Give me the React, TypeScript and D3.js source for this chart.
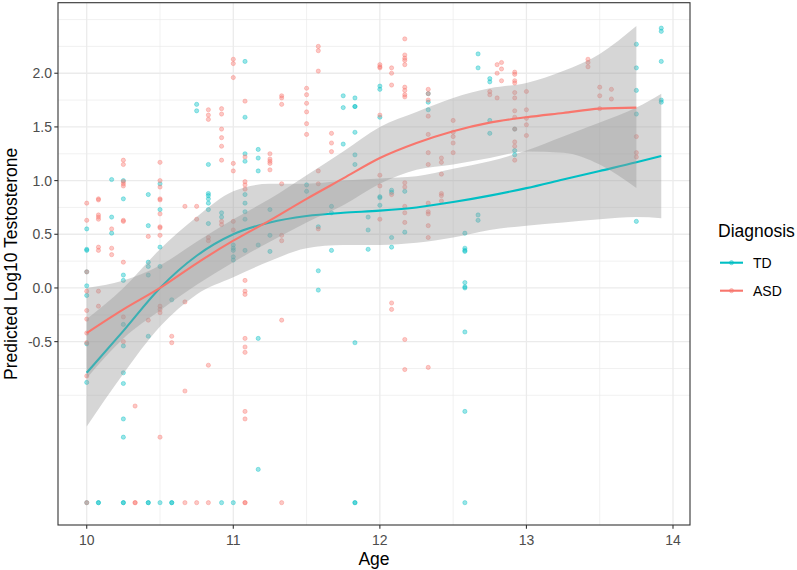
import React from "react";
import * as d3 from "d3";

// ---------- data ----------
const groupNames = ["TD", "ASD"];
const groupColors = ["#00BFC4", "#F8766D"];

const xTicks = [10, 11, 12, 13, 14];
const xMinorTicks = [10.5, 11.5, 12.5, 13.5];
const yTicks = [-0.5, 0, 0.5, 1, 1.5, 2];
const yTickLabels = ["-0.5", "0.0", "0.5", "1.0", "1.5", "2.0"];
const yMinorTicks = [-1, -0.75, -0.25, 0.25, 0.75, 1.25, 1.75, 2.25, 2.5];

// points: [age, values at that age]
const tdPoints: [number, number[]][] = [
  [10.0, [0.55, 0.36, 0.35, 0.15, 0.02, -0.07, -0.52, -0.88, -2.0]],
  [10.08, [-2.0, -2.0]],
  [10.17, [1.01, 0.66, 0.51]],
  [10.25, [1.0, 0.83, 0.12, 0.07, -0.34, -0.54, -0.79, -0.89, -1.22, -1.39, -2.0, -2.0]],
  [10.42, [0.87, 0.58, 0.24, 0.2, 0.12, -0.45, -2.0, -2.0]],
  [10.5, [0.97, 0.73, 0.38, 0.2, -2.0]],
  [10.58, [-0.11, -2.0, -2.0]],
  [10.75, [1.71, 1.65]],
  [10.83, [1.15, 0.88, 0.86, 0.83, 0.79, 0.73, 0.6]],
  [10.92, [0.7, 0.66, -2.0]],
  [11.0, [0.4, 0.37, 0.35, 0.29, 0.26, -2.0]],
  [11.08, [2.11, 1.59, 1.25, 1.18, 0.87, 0.79, 0.71, 0.64, 0.35]],
  [11.17, [1.29, 1.21, 1.09, 0.4, -0.47, -1.69]],
  [11.25, [0.73, 0.49, 0.34]],
  [11.5, [0.96, 0.9]],
  [11.58, [0.57, 0.16, -0.02]],
  [11.67, [0.76, 0.7, 0.35]],
  [11.75, [1.79, 1.68, 1.34]],
  [11.83, [1.77, 1.69, 1.69, 1.45, 1.24, 1.15, -0.51, -2.0, -2.0]],
  [11.92, [0.66, 0.54, 0.36]],
  [12.0, [1.88, 1.85, 1.59, 0.85, 0.84, 0.77]],
  [12.08, [0.91, 0.89, 0.47, 0.38]],
  [12.17, [0.9, 0.52]],
  [12.33, [1.81, 1.73, 1.66]],
  [12.58, [0.51, 0.37, 0.35, 0.34, 0.05, 0.01, 0.0, -0.41, -1.15, -2.0]],
  [12.67, [2.18, 2.05, 0.68, 0.63]],
  [12.75, [1.95, 1.92, 1.56, 1.44]],
  [12.92, [1.48, 1.28, 1.24]],
  [13.75, [2.27, 2.05, 1.84, 1.62, 0.62]],
  [13.92, [2.42, 2.39, 2.11, 1.75, 1.73]],
];

const asdPoints: [number, number[]][] = [
  [10.0, [0.79, 0.63, 0.15, -0.03, -0.21, -0.29, -0.42, -0.51, -0.82, -2.0]],
  [10.08, [0.83, 0.82, 0.68, 0.66, 0.64, 0.38, 0.35, -0.03, -0.17]],
  [10.17, [0.55, 0.37, 0.31]],
  [10.25, [1.19, 1.15, 0.99, 0.97, 0.95, 0.63, 0.62, 0.24, -0.27, -0.5]],
  [10.33, [-1.1, -2.0, -2.0]],
  [10.42, [0.48, -0.3]],
  [10.5, [1.17, 1.0, 0.94, 0.83, 0.82, 0.69, 0.57, 0.56, 0.49, -0.17, -0.2, -0.23, -1.39]],
  [10.58, [-0.45, -0.51]],
  [10.67, [0.76, -0.13, -0.96, -2.0]],
  [10.75, [0.76, 0.64, -2.0]],
  [10.83, [1.66, 1.61, 1.57, 0.47, 0.44, -0.72, -2.0]],
  [10.92, [1.67, 1.62, 1.48, 1.4, 1.32, 1.19, 0.62, 0.59]],
  [11.0, [2.13, 2.09, 1.96, 1.16, 1.09, 0.62, 0.54]],
  [11.08, [1.74, 1.22, 0.99, 0.96, 0.92, 0.07, -0.03, -0.06, -0.47, -0.55, -0.6, -1.15, -1.22, -2.0, -2.0]],
  [11.25, [1.25, 1.2, 1.18, 1.16, 1.1]],
  [11.33, [1.79, 1.77, 1.71, 0.97, 0.49, 0.44, -0.3, -2.0]],
  [11.5, [1.86, 1.8, 1.72, 1.64, 1.53, 1.43]],
  [11.58, [2.25, 2.21, 2.02, 1.09, 0.97, 0.55]],
  [11.67, [1.44, 1.35, 1.27]],
  [12.0, [2.08, 2.06, 2.05, 1.61, 1.05, 0.95, 0.64]],
  [12.08, [2.05, 2.0, 1.89, 0.87, -0.14, -0.2]],
  [12.17, [2.32, 2.17, 2.14, 2.12, 2.08, 1.87, 1.84, 1.8, 1.78, 0.98, 0.94, 0.76, 0.7, 0.61, -0.48, -0.76]],
  [12.33, [1.85, 1.81, 1.75, 1.6, 1.43, 1.26, 1.15, 0.79, 0.71, 0.69, 0.58, 0.47, -0.74]],
  [12.42, [1.21, 1.17, 1.06, 0.88, 0.86, 0.81]],
  [12.5, [1.56, 1.45, 1.41, 1.35, 1.26]],
  [12.75, [1.83, 1.8]],
  [12.8, [2.08, 2.0, 1.77]],
  [12.83, [2.1, 2.04, 1.93]],
  [12.92, [2.01, 1.99, 1.93, 1.91, 1.82, 1.77, 1.65, 1.59, 1.48, 1.36, 1.32, 1.19]],
  [13.0, [1.83, 1.66, 1.58, 1.52, 1.42]],
  [13.42, [2.13, 2.1, 2.06]],
  [13.5, [1.87, 1.79, 1.67]],
  [13.58, [1.85, 1.76]],
  [13.75, [1.41, 1.26, 1.22]],
];

// loess smooths with confidence band
const tdSmoothAge = [10, 10.25, 10.5, 10.75, 11, 11.25, 11.5, 11.75, 12, 12.25, 12.5, 12.75, 13, 13.25, 13.5, 13.75, 13.92];
const tdFit = [-0.79, -0.4, 0.0, 0.3, 0.5, 0.61, 0.67, 0.7, 0.72, 0.75, 0.8, 0.86, 0.93, 1.01, 1.09, 1.17, 1.23];
const tdLower = [-1.29, -0.8, -0.36, -0.06, 0.1, 0.25, 0.37, 0.4, 0.4, 0.42, 0.47, 0.54, 0.58, 0.61, 0.64, 0.66, 0.65];
const tdUpper = [-0.29, 0.0, 0.36, 0.66, 0.9, 0.97, 0.97, 1.0, 1.02, 1.04, 1.11, 1.18, 1.28, 1.41, 1.54, 1.68, 1.81];

const asdSmoothAge = [10, 10.25, 10.5, 10.75, 11, 11.25, 11.5, 11.75, 12, 12.25, 12.5, 12.75, 13, 13.25, 13.5, 13.75];
const asdFit = [-0.42, -0.2, 0.0, 0.23, 0.44, 0.63, 0.83, 1.02, 1.21, 1.35, 1.46, 1.54, 1.59, 1.63, 1.67, 1.68];
const asdLower = [-0.84, -0.47, -0.21, 0.03, 0.24, 0.43, 0.61, 0.77, 0.97, 1.1, 1.15, 1.21, 1.27, 1.26, 1.15, 0.93];
const asdUpper = [0.0, 0.07, 0.21, 0.43, 0.64, 0.83, 1.05, 1.27, 1.5, 1.64, 1.77, 1.86, 1.91, 2.02, 2.18, 2.44];

// ---------- layout ----------
const W = 797;
const H = 570;
const P = { left: 58, right: 690, top: 2.7, bottom: 525 };

export default function App() {
  const x = d3.scaleLinear().domain([9.804, 14.116]).range([P.left, P.right]);
  const y = d3.scaleLinear().domain([-2.208, 2.657]).range([P.bottom, P.top]);

  const groups = [
    { name: groupNames[0], color: groupColors[0], pts: tdPoints, age: tdSmoothAge, fit: tdFit, lo: tdLower, hi: tdUpper },
    { name: groupNames[1], color: groupColors[1], pts: asdPoints, age: asdSmoothAge, fit: asdFit, lo: asdLower, hi: asdUpper },
  ];

  const area = (g: any) =>
    d3
      .area<number>()
      .x((_, i) => x(g.age[i]))
      .y0((_, i) => y(g.lo[i]))
      .y1((_, i) => y(g.hi[i]))
      .curve(d3.curveMonotoneX)(g.age) as string;
  const line = (g: any) =>
    d3
      .line<number>()
      .x((_, i) => x(g.age[i]))
      .y((_, i) => y(g.fit[i]))
      .curve(d3.curveMonotoneX)(g.age) as string;

  const font = "'Liberation Sans', Arial, Helvetica, sans-serif";

  return (
    <svg
      width={W}
      height={H}
      style={{ position: "absolute", left: 0, top: 0, background: "#fff" }}
      fontFamily={font}
    >
      <rect x={0} y={0} width={W} height={H} fill="#fff" />
      <defs>
        <clipPath id="panel">
          <rect x={P.left} y={P.top} width={P.right - P.left} height={P.bottom - P.top} />
        </clipPath>
      </defs>
      {/* minor grid */}
      {yMinorTicks.map((v) => (
        <line key={"ym" + v} x1={P.left} x2={P.right} y1={y(v)} y2={y(v)} stroke="#EBEBEB" strokeWidth={0.7} />
      ))}
      {xMinorTicks.map((v) => (
        <line key={"xm" + v} y1={P.top} y2={P.bottom} x1={x(v)} x2={x(v)} stroke="#EBEBEB" strokeWidth={0.7} />
      ))}
      {/* major grid */}
      {yTicks.map((v) => (
        <line key={"yM" + v} x1={P.left} x2={P.right} y1={y(v)} y2={y(v)} stroke="#EBEBEB" strokeWidth={1.3} />
      ))}
      {xTicks.map((v) => (
        <line key={"xM" + v} y1={P.top} y2={P.bottom} x1={x(v)} x2={x(v)} stroke="#EBEBEB" strokeWidth={1.3} />
      ))}

      <g clipPath="url(#panel)">
        {/* points */}
        {groups.map((g) =>
          g.pts.flatMap(([a, vals]) =>
            vals.map((v, j) => (
              <circle
                key={g.name + a + "_" + j}
                cx={x(a)}
                cy={y(v)}
                r={2.1}
                fill={g.color}
                fillOpacity={0.4}
                stroke={g.color}
                strokeOpacity={0.4}
                strokeWidth={0.9}
              />
            ))
          )
        )}
        {/* smooths */}
        {groups.map((g) => (
          <g key={"s" + g.name}>
            <path d={area(g)} fill="#999999" fillOpacity={0.4} />
            <path d={line(g)} fill="none" stroke={g.color} strokeWidth={2.1} />
          </g>
        ))}
      </g>

      {/* panel border */}
      <rect
        x={P.left}
        y={P.top}
        width={P.right - P.left}
        height={P.bottom - P.top}
        fill="none"
        stroke="#333333"
        strokeWidth={1.1}
      />

      {/* y axis */}
      {yTicks.map((v, i) => (
        <g key={"yt" + v}>
          <line x1={P.left - 3.7} x2={P.left} y1={y(v)} y2={y(v)} stroke="#333333" strokeWidth={1.1} />
          <text x={P.left - 6} y={y(v)} dy="0.36em" textAnchor="end" fontSize={14} fill="#4D4D4D">
            {yTickLabels[i]}
          </text>
        </g>
      ))}
      {/* x axis */}
      {xTicks.map((v) => (
        <g key={"xt" + v}>
          <line x1={x(v)} x2={x(v)} y1={P.bottom} y2={P.bottom + 3.7} stroke="#333333" strokeWidth={1.1} />
          <text x={x(v)} y={545} textAnchor="middle" fontSize={14} fill="#4D4D4D">
            {v}
          </text>
        </g>
      ))}

      {/* axis titles */}
      <text x={(P.left + P.right) / 2} y={565} textAnchor="middle" fontSize={17.5} fill="#000">
        Age
      </text>
      <text
        transform={`translate(17,${(P.top + P.bottom) / 2}) rotate(-90)`}
        textAnchor="middle"
        fontSize={17.5}
        fill="#000"
      >
        Predicted Log10 Testosterone
      </text>

      {/* legend */}
      <text x={718} y={237} fontSize={17.5} fill="#000">
        Diagnosis
      </text>
      {groups.map((g, i) => {
        const cy = 262.7 + i * 28;
        return (
          <g key={"lg" + g.name}>
            <line x1={720} x2={743} y1={cy} y2={cy} stroke={g.color} strokeWidth={2.1} />
            <circle cx={731.5} cy={cy} r={2.1} fill={g.color} fillOpacity={0.4} stroke={g.color} strokeOpacity={0.4} />
            <text x={753} y={cy + 5} fontSize={14} fill="#000">
              {g.name}
            </text>
          </g>
        );
      })}
    </svg>
  );
}
